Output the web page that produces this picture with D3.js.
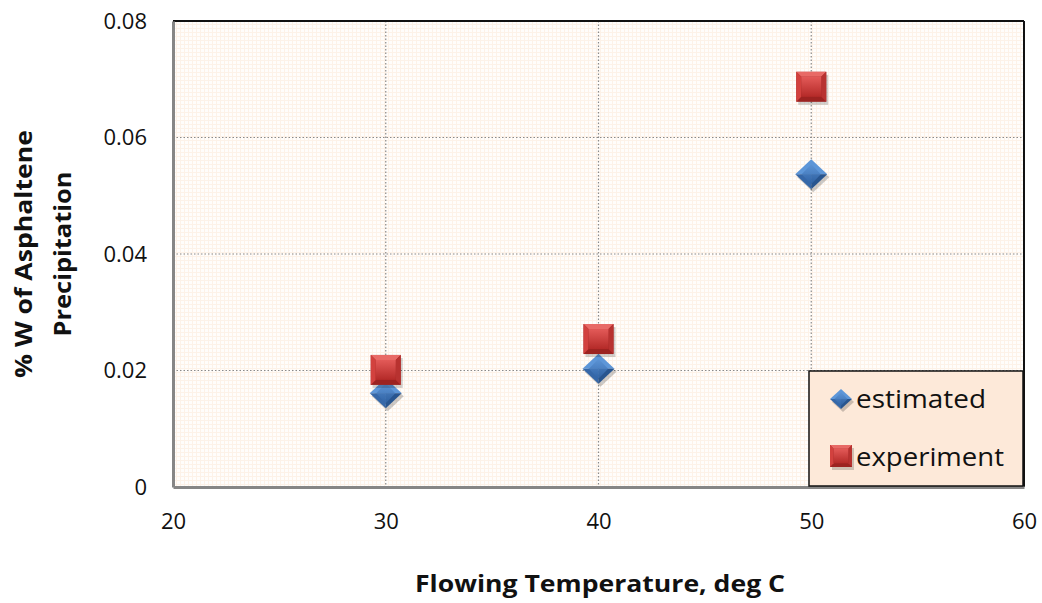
<!DOCTYPE html>
<html>
<head>
<meta charset="utf-8">
<script src="https://cdn.jsdelivr.net/npm/d3@7"></script>
<style>
  body { margin: 0; background: #fff; }
  svg { display: block; font-family: "Open Sans", sans-serif; }
</style>
</head>
<body>
<svg width="1042" height="603"></svg>
<script>
// chart data
var temps = [30, 40, 50];
var estimated = [0.0161, 0.0203, 0.0537];
var experiment = [0.0201, 0.0254, 0.0687];
var xTicks = [20, 30, 40, 50, 60];
var yTicks = [0, 0.02, 0.04, 0.06, 0.08];

var svg = d3.select("svg");
var pl = 173, pr = 1024, pt = 21, pb = 487;

var x = d3.scaleLinear().domain([20, 60]).range([pl, pr]);
var y = d3.scaleLinear().domain([0, 0.08]).range([pb, pt]);

var defs = svg.append("defs");
var pat = defs.append("pattern").attr("id", "fine")
    .attr("width", 4).attr("height", 4).attr("patternUnits", "userSpaceOnUse");
pat.append("rect").attr("width", 4).attr("height", 4).attr("fill", "#fffdfb");
pat.append("rect").attr("width", 4).attr("height", 1).attr("fill", "#fdf2e8");
pat.append("rect").attr("width", 1).attr("height", 4).attr("fill", "#fdf2e8");

function grad(id, c1, c2) {
    var g = defs.append("linearGradient").attr("id", id)
        .attr("x1", 0).attr("y1", 0).attr("x2", 0).attr("y2", 1);
    g.append("stop").attr("offset", 0).attr("stop-color", c1);
    g.append("stop").attr("offset", 1).attr("stop-color", c2);
}
grad("redG", "#e35a58", "#b42a28");
grad("blueG", "#5c93d4", "#2f63a6");

// plot background
svg.append("rect").attr("x", pl).attr("y", pt)
    .attr("width", pr - pl).attr("height", pb - pt)
    .attr("fill", "url(#fine)");

// major gridlines
svg.append("g").selectAll("line").data(yTicks.slice(1, 4)).enter().append("line")
    .attr("x1", pl).attr("x2", pr)
    .attr("y1", function(d) { return y(d); }).attr("y2", function(d) { return y(d); })
    .attr("stroke", "#8a8a8a").attr("stroke-width", 1.2).attr("stroke-dasharray", "1.5,2");
svg.append("g").selectAll("line").data(xTicks.slice(1, 4)).enter().append("line")
    .attr("y1", pt).attr("y2", pb)
    .attr("x1", function(d) { return x(d); }).attr("x2", function(d) { return x(d); })
    .attr("stroke", "#8a8a8a").attr("stroke-width", 1.2).attr("stroke-dasharray", "1.5,2");

// frame
svg.append("line").attr("x1", pl).attr("x2", pr).attr("y1", pt).attr("y2", pt)
    .attr("stroke", "#111").attr("stroke-width", 2);
svg.append("line").attr("x1", pr).attr("x2", pr).attr("y1", pt).attr("y2", pb)
    .attr("stroke", "#111").attr("stroke-width", 2);

// axes
var xAxis = svg.append("g").attr("transform", "translate(0," + pb + ")")
    .call(d3.axisBottom(x).tickValues(xTicks).tickSize(0).tickPadding(30));
var yAxis = svg.append("g").attr("transform", "translate(" + pl + ",0)")
    .call(d3.axisLeft(y).tickValues(yTicks).tickSize(0).tickPadding(26)
        .tickFormat(function(d) { return d === 0 ? "0" : d3.format(".2f")(d); }));
[xAxis, yAxis].forEach(function(a) {
    a.select(".domain").attr("stroke", "#868686").attr("stroke-width", 3);
    a.selectAll("text").attr("font-size", 22).attr("fill", "#111")
        .attr("font-family", "'Open Sans', sans-serif");
});
xAxis.selectAll("text").attr("dy", "0.55em");

// axis titles
svg.append("text").attr("x", 600).attr("y", 592).attr("text-anchor", "middle")
    .attr("font-size", 24).attr("font-weight", "bold").attr("fill", "#111")
    .attr("textLength", 370).attr("lengthAdjust", "spacingAndGlyphs")
    .text("Flowing Temperature, deg C");
var yt = svg.append("text").attr("transform", "translate(32,254) rotate(-90)")
    .attr("text-anchor", "middle").attr("font-size", 24).attr("font-weight", "bold").attr("fill", "#111");
yt.append("tspan").attr("x", 0).attr("y", 0)
    .attr("textLength", 248).attr("lengthAdjust", "spacingAndGlyphs").text("% W of Asphaltene");
yt.append("tspan").attr("x", 0).attr("y", 39)
    .attr("textLength", 165).attr("lengthAdjust", "spacingAndGlyphs").text("Precipitation");

// marker drawing
function square(g, cx, cy, s) {
    var h = s / 2, b = s / 6;
    g.append("rect").attr("x", cx - h + 2).attr("y", cy - h + 3).attr("width", s).attr("height", s)
        .attr("fill", "rgba(0,0,0,0.18)");
    g.append("rect").attr("x", cx - h).attr("y", cy - h).attr("width", s).attr("height", s)
        .attr("fill", "#9c2321");
    g.append("polygon").attr("points", [[cx - h, cy - h], [cx + h, cy - h], [cx + h - b, cy - h + b], [cx - h + b, cy - h + b]].join(" "))
        .attr("fill", "#e86a66");
    g.append("polygon").attr("points", [[cx - h, cy - h], [cx - h + b, cy - h + b], [cx - h + b, cy + h - b], [cx - h, cy + h]].join(" "))
        .attr("fill", "#d2413e");
    g.append("polygon").attr("points", [[cx + h, cy - h], [cx + h, cy + h], [cx + h - b, cy + h - b], [cx + h - b, cy - h + b]].join(" "))
        .attr("fill", "#b83230");
    g.append("rect").attr("x", cx - h + b).attr("y", cy - h + b).attr("width", s - 2 * b).attr("height", s - 2 * b)
        .attr("fill", "url(#redG)");
}
function diamond(g, cx, cy, w, hgt) {
    var a = w / 2, c = hgt / 2;
    g.append("polygon").attr("points", [[cx + 2, cy - c + 3], [cx + a + 2, cy + 3], [cx + 2, cy + c + 3], [cx - a + 2, cy + 3]].join(" "))
        .attr("fill", "rgba(0,0,0,0.2)");
    g.append("polygon").attr("points", [[cx, cy - c], [cx + a, cy], [cx, cy], [cx - a, cy]].join(" "))
        .attr("fill", "#5d96d8");
    g.append("polygon").attr("points", [[cx - a, cy], [cx, cy], [cx, cy + c]].join(" "))
        .attr("fill", "#3567a8");
    g.append("polygon").attr("points", [[cx + a, cy], [cx, cy], [cx, cy + c]].join(" "))
        .attr("fill", "#28558f");
    g.append("polygon").attr("points", [[cx, cy - c + hgt / 6], [cx + a - w / 5, cy], [cx, cy + c - hgt / 6], [cx - a + w / 5, cy]].join(" "))
        .attr("fill", "url(#blueG)").attr("opacity", 0.8);
}

var marks = svg.append("g");
temps.forEach(function(t, i) {
    diamond(marks, x(t), y(estimated[i]), 32, 30);
});
temps.forEach(function(t, i) {
    square(marks, x(t), y(experiment[i]), 30);
});

// legend
var lg = svg.append("g");
lg.append("rect").attr("x", 809).attr("y", 371).attr("width", 214).attr("height", 115)
    .attr("fill", "#fde9d9").attr("stroke", "#111").attr("stroke-width", 1.5);
diamond(lg, 841, 399, 22, 20);
square(lg, 841, 456, 22);
lg.append("text").attr("x", 856).attr("y", 408).attr("font-size", 25).attr("fill", "#111")
    .attr("textLength", 130).attr("lengthAdjust", "spacingAndGlyphs").text("estimated");
lg.append("text").attr("x", 856).attr("y", 466).attr("font-size", 25).attr("fill", "#111")
    .attr("textLength", 148).attr("lengthAdjust", "spacingAndGlyphs").text("experiment");
</script>
</body>
</html>
